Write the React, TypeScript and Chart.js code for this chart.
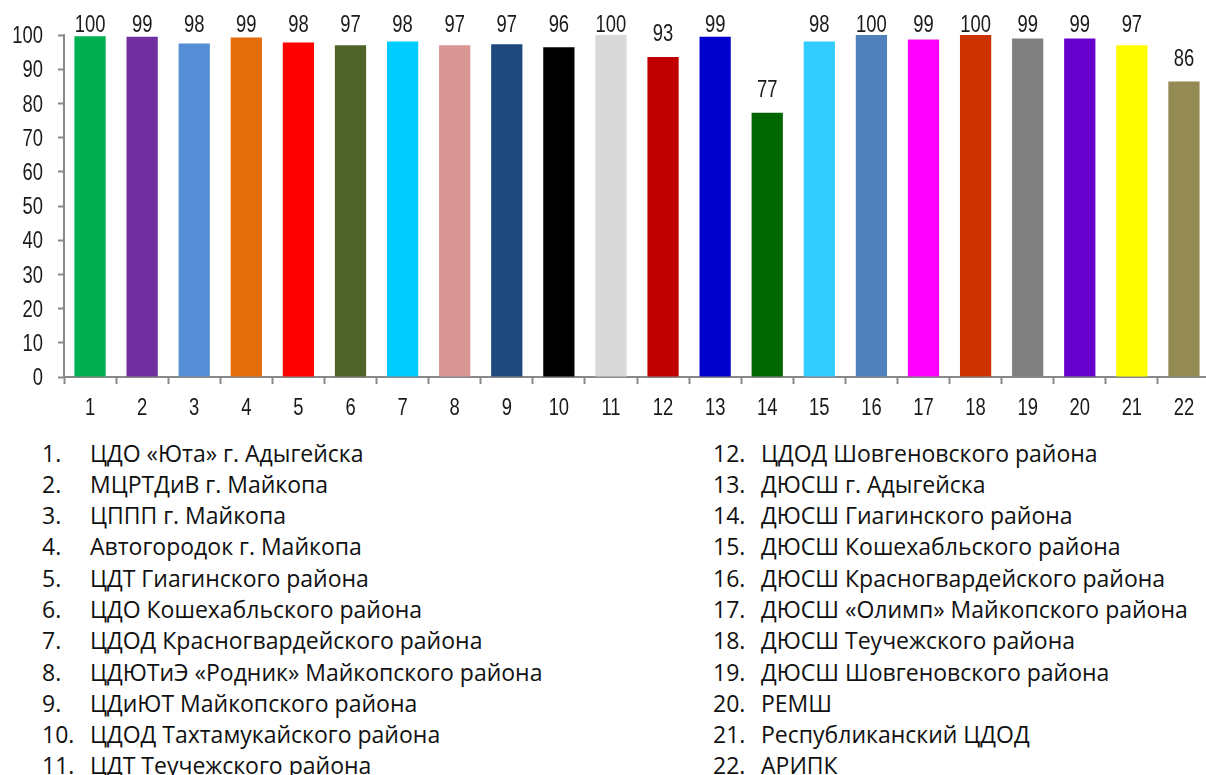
import React, { useEffect, useRef } from "react";
import { Chart, registerables } from "chart.js";

Chart.register(...registerables);

const categories = ["1","2","3","4","5","6","7","8","9","10","11","12","13","14","15","16","17","18","19","20","21","22"];
const values = [99.6, 99.5, 97.5, 99.3, 97.8, 97.0, 98.1, 97.0, 97.3, 96.4, 100, 93.6, 99.5, 77.3, 98.1, 100, 98.7, 100, 99.0, 99.0, 97.0, 86.4];
const valueLabels = ["100","99","98","99","98","97","98","97","97","96","100","93","99","77","98","100","99","100","99","99","97","86"];
const barColors = ["#00B050","#7030A0","#558ED5","#E46C0A","#FF0000","#4F6228","#00CCFF","#D99694","#1F497D","#000000","#D9D9D9","#C00000","#0000CC","#006600","#33CCFF","#4F81BD","#FF00FF","#CC3300","#808080","#6600CC","#FFFF00","#948A54"];
const yMin = 0;
const yMax = 100;
const yStep = 10;
const orgNames = [
  "ЦДО «Юта» г. Адыгейска",
  "МЦРТДиВ г. Майкопа",
  "ЦППП г. Майкопа",
  "Автогородок г. Майкопа",
  "ЦДТ Гиагинского района",
  "ЦДО Кошехабльского района",
  "ЦДОД Красногвардейского района",
  "ЦДЮТиЭ «Родник» Майкопского района",
  "ЦДиЮТ Майкопского района",
  "ЦДОД Тахтамукайского района",
  "ЦДТ Теучежского района",
  "ЦДОД Шовгеновского района",
  "ДЮСШ г. Адыгейска",
  "ДЮСШ Гиагинского района",
  "ДЮСШ Кошехабльского района",
  "ДЮСШ Красногвардейского района",
  "ДЮСШ «Олимп» Майкопского района",
  "ДЮСШ Теучежского района",
  "ДЮСШ Шовгеновского района",
  "РЕМШ",
  "Республиканский ЦДОД",
  "АРИПК",
];

const FONT = "'Liberation Sans', Arial, sans-serif";
const FSIZE = 23;
const SX = 0.8;
const AXIS = "#898989";
const TEXT = "#1a1a1a";

const textPlugin = {
  id: "condensedText",
  afterDatasetsDraw(chart: any) {
    const ctx = chart.ctx;
    const area = chart.chartArea;
    const xs = chart.scales.x;
    const ys = chart.scales.y;
    const draw = (t: string, px: number, py: number, align: CanvasTextAlign) => {
      ctx.save();
      ctx.translate(px, py);
      ctx.scale(SX, 1);
      ctx.font = `${FSIZE}px ${FONT}`;
      ctx.fillStyle = TEXT;
      ctx.textAlign = align;
      ctx.textBaseline = "alphabetic";
      ctx.fillText(t, 0, 0);
      ctx.restore();
    };
    ys.ticks.forEach((t: any) => {
      draw(String(t.value), area.left - 21, ys.getPixelForValue(t.value) + 0.358 * FSIZE, "right");
    });
    xs.ticks.forEach((t: any, i: number) => {
      draw(String(xs.getLabelForValue(t.value)), xs.getPixelForTick(i), area.bottom + 38, "center");
    });
    const meta = chart.getDatasetMeta(0);
    meta.data.forEach((bar: any, i: number) => {
      const y = Math.max(bar.y - 16, area.top - 3);
      draw(valueLabels[i], bar.x, y, "center");
    });
  },
};

function BarChart() {
  const ref = useRef<HTMLCanvasElement | null>(null);
  useEffect(() => {
    if (!ref.current) return;
    const chart = new Chart(ref.current, {
      type: "bar",
      data: {
        labels: categories,
        datasets: [
          {
            data: values,
            backgroundColor: barColors,
            borderWidth: 0,
            barPercentage: 0.6,
            categoryPercentage: 1,
          },
        ],
      },
      options: {
        animation: false,
        responsive: false,
        maintainAspectRatio: false,
        layout: { padding: { top: 35, left: 0, right: 2, bottom: 0 } },
        plugins: {
          legend: { display: false },
          tooltip: { enabled: false },
        },
        scales: {
          x: {
            offset: true,
            grid: {
              offset: true,
              drawOnChartArea: false,
              drawTicks: true,
              tickLength: 7,
              tickColor: AXIS,
              tickWidth: 2,
            },
            border: { display: true, color: AXIS, width: 2 },
            ticks: {
              display: false,
              autoSkip: false,
              maxRotation: 0,
            },
            afterFit: (s: any) => {
              s.height = 53;
            },
          },
          y: {
            min: yMin,
            max: yMax,
            grid: {
              drawOnChartArea: false,
              drawTicks: true,
              tickLength: 6,
              tickColor: AXIS,
              tickWidth: 2,
            },
            border: { display: true, color: AXIS, width: 2 },
            ticks: {
              display: false,
              stepSize: yStep,
            },
            afterFit: (s: any) => {
              s.width = 64;
            },
          },
        },
      },
      plugins: [textPlugin],
    });
    return () => chart.destroy();
  }, []);
  return (
    <canvas
      ref={ref}
      width={1212}
      height={430}
      style={{ position: "absolute", left: 0, top: 0, width: 1212, height: 430 }}
    />
  );
}

const rowH = 31.3;
const listFont = "'Open Sans', 'Noto Sans', sans-serif";

function NameColumn({ start, end, left }: { start: number; end: number; left: number }) {
  return (
    <div style={{ position: "absolute", left, top: 437.5 }}>
      {orgNames.slice(start, end).map((n, i) => (
        <div
          key={i}
          style={{
            display: "flex",
            height: rowH,
            lineHeight: `${rowH}px`,
            fontFamily: listFont,
            fontSize: 23,
            color: "#111",
            whiteSpace: "nowrap",
          }}
        >
          <span style={{ width: 48, display: "inline-block", flexShrink: 0 }}>{start + i + 1}.</span>
          <span>{n}</span>
        </div>
      ))}
    </div>
  );
}

export default function App() {
  return (
    <div
      style={{
        position: "fixed",
        left: 0,
        top: 0,
        width: 1206,
        height: 775,
        overflow: "hidden",
        background: "#fff",
      }}
    >
      <BarChart />
      <NameColumn start={0} end={11} left={42} />
      <NameColumn start={11} end={22} left={713} />
    </div>
  );
}
